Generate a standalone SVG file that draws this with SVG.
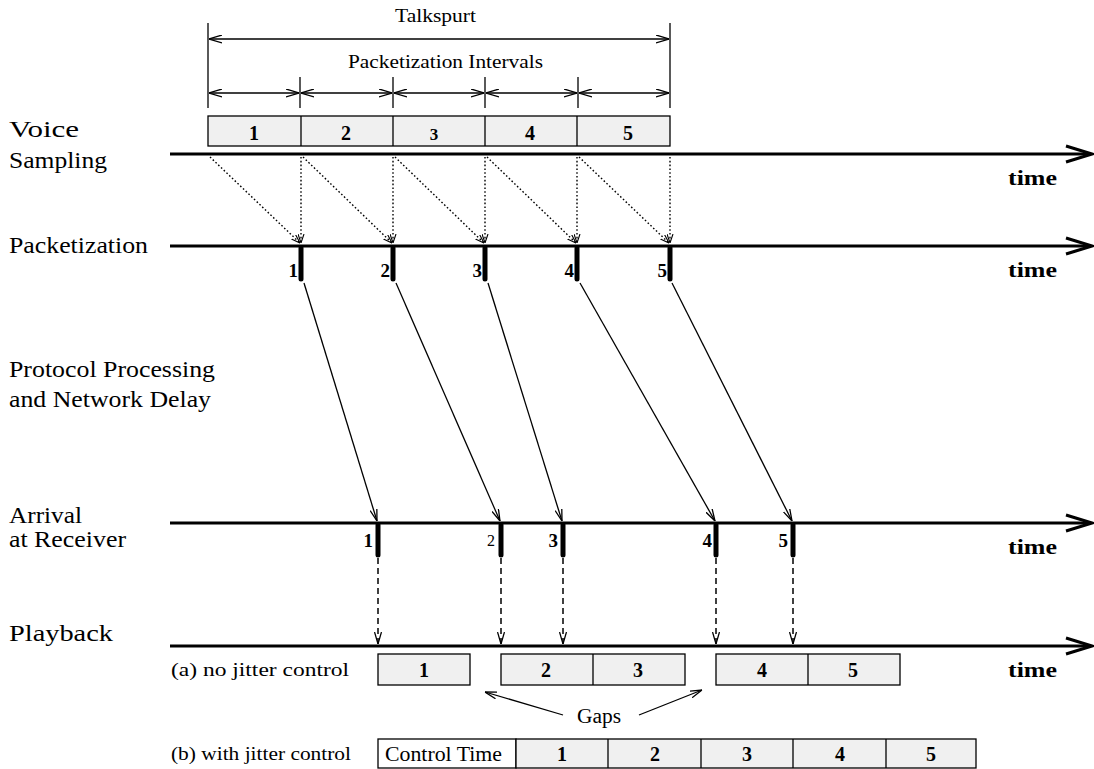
<svg xmlns="http://www.w3.org/2000/svg" width="1094" height="769" viewBox="0 0 1094 769" font-family="'Liberation Serif', Tinos, 'Times New Roman', Times, serif">
  <style>
    text { font-family: "Liberation Serif", Tinos, "Times New Roman", Times, serif; fill: #000; }
    .lbl { font-size: 23px; }
    .hdr { font-size: 18px; }
    .num { font-size: 20px; font-weight: bold; text-anchor: middle; }
    .tick-num { font-size: 19px; font-weight: bold; text-anchor: end; }
    .time { font-size: 22px; font-weight: bold; }
    .small { font-size: 19px; }
    .axis { stroke: #000; stroke-width: 3; fill: none; }
    .axis-head { stroke: #000; stroke-width: 3; fill: none; stroke-linejoin: miter; }
    .bar { stroke: #000; stroke-width: 5; stroke-linecap: round; }
    .box { fill: #f0f0f0; stroke: #000; stroke-width: 1.3; }
    .wbox { fill: #fff; stroke: #000; stroke-width: 1.3; }
    .dim { stroke: #000; stroke-width: 1.3; fill: none; }
    .dot { stroke: #000; stroke-width: 1.4; stroke-dasharray: 1.6 2.2; fill: none; }
    .dash { stroke: #000; stroke-width: 1.5; stroke-dasharray: 6 4; fill: none; }
    .solid { stroke: #000; stroke-width: 1.3; fill: none; }
  </style>
  <defs>
    <marker id="dimHead" viewBox="0 0 13 9" refX="13" refY="4.5" markerWidth="13" markerHeight="9" orient="auto-start-reverse" markerUnits="userSpaceOnUse">
      <path d="M0,0.5 L13,4.5 L0,8.5" fill="none" stroke="#000" stroke-width="1.3"/>
    </marker>
    <marker id="openHead" viewBox="0 0 12 8" refX="12" refY="4" markerWidth="12" markerHeight="8" orient="auto" markerUnits="userSpaceOnUse">
      <path d="M0,0.5 L12,4 L0,7.5" fill="none" stroke="#000" stroke-width="1.3"/>
    </marker>
    <marker id="smallHead" viewBox="0 0 9 7" refX="9" refY="3.5" markerWidth="9" markerHeight="7" orient="auto" markerUnits="userSpaceOnUse">
      <path d="M0,0.5 L9,3.5 L0,6.5" fill="none" stroke="#000" stroke-width="1.1"/>
    </marker>
  </defs>

  <!-- Talkspurt and packetization interval dimensions -->
  <g id="talkspurt">
    <text class="hdr" x="395" y="22" textLength="81" lengthAdjust="spacingAndGlyphs">Talkspurt</text>
    <line class="dim" x1="208" y1="23" x2="208" y2="108"/>
    <line class="dim" x1="670" y1="23" x2="670" y2="108"/>
    <line class="dim" x1="209" y1="39" x2="669" y2="39" marker-start="url(#dimHead)" marker-end="url(#dimHead)"/>
  </g>
  <g id="intervals">
    <text class="hdr" x="348" y="68" textLength="195" lengthAdjust="spacingAndGlyphs">Packetization Intervals</text>
    <line class="dim" x1="300" y1="77" x2="300" y2="108"/>
    <line class="dim" x1="393" y1="77" x2="393" y2="108"/>
    <line class="dim" x1="485" y1="77" x2="485" y2="108"/>
    <line class="dim" x1="578" y1="77" x2="578" y2="108"/>
    <line class="dim" x1="209" y1="93" x2="299" y2="93" marker-start="url(#dimHead)" marker-end="url(#dimHead)"/>
    <line class="dim" x1="301" y1="93" x2="392" y2="93" marker-start="url(#dimHead)" marker-end="url(#dimHead)"/>
    <line class="dim" x1="394" y1="93" x2="484" y2="93" marker-start="url(#dimHead)" marker-end="url(#dimHead)"/>
    <line class="dim" x1="486" y1="93" x2="577" y2="93" marker-start="url(#dimHead)" marker-end="url(#dimHead)"/>
    <line class="dim" x1="579" y1="93" x2="669" y2="93" marker-start="url(#dimHead)" marker-end="url(#dimHead)"/>
  </g>

  <!-- Voice sampling row -->
  <g id="voice-sampling">
    <text class="lbl" x="9" y="137" textLength="70" lengthAdjust="spacingAndGlyphs">Voice</text>
    <text class="lbl" x="9" y="168" textLength="98" lengthAdjust="spacingAndGlyphs">Sampling</text>
    <rect class="box" x="208" y="116" width="462" height="30"/>
    <line class="dim" x1="301" y1="116" x2="301" y2="146"/>
    <line class="dim" x1="393" y1="116" x2="393" y2="146"/>
    <line class="dim" x1="485" y1="116" x2="485" y2="146"/>
    <line class="dim" x1="577" y1="116" x2="577" y2="146"/>
    <text class="num" x="254" y="140">1</text>
    <text class="num" x="346" y="140">2</text>
    <text class="num" x="434" y="140" style="font-size:17px">3</text>
    <text class="num" x="530" y="140">4</text>
    <text class="num" x="628" y="140">5</text>
    <line class="axis" x1="170" y1="154" x2="1090" y2="154"/>
    <path class="axis-head" d="M1066,146 L1092,154 L1066,162"/>
    <text class="time" x="1008" y="185" textLength="49" lengthAdjust="spacingAndGlyphs">time</text>
  </g>

  <!-- Packetization row -->
  <g id="packetization">
    <text class="lbl" x="9" y="253" textLength="139" lengthAdjust="spacingAndGlyphs">Packetization</text>
    <line class="axis" x1="170" y1="246" x2="1090" y2="246"/>
    <path class="axis-head" d="M1066,238 L1092,246 L1066,254"/>
    <line class="bar" x1="301" y1="248" x2="301" y2="279"/>
    <line class="bar" x1="393" y1="248" x2="393" y2="279"/>
    <line class="bar" x1="485" y1="248" x2="485" y2="279"/>
    <line class="bar" x1="577" y1="248" x2="577" y2="279"/>
    <line class="bar" x1="670" y1="248" x2="670" y2="279"/>
    <text class="tick-num" x="298" y="277">1</text>
    <text class="tick-num" x="390" y="277">2</text>
    <text class="tick-num" x="482" y="277">3</text>
    <text class="tick-num" x="574" y="277">4</text>
    <text class="tick-num" x="667" y="277">5</text>
    <text class="time" x="1008" y="277" textLength="49" lengthAdjust="spacingAndGlyphs">time</text>
  </g>

  <!-- Network delay label -->
  <g id="network-delay">
    <text class="lbl" x="9" y="377" textLength="206" lengthAdjust="spacingAndGlyphs">Protocol Processing</text>
    <text class="lbl" x="9" y="407" textLength="202" lengthAdjust="spacingAndGlyphs">and Network Delay</text>
  </g>

  <!-- Arrival row -->
  <g id="arrival">
    <text class="lbl" x="9" y="523" textLength="73" lengthAdjust="spacingAndGlyphs">Arrival</text>
    <text class="lbl" x="9" y="547" textLength="117" lengthAdjust="spacingAndGlyphs">at Receiver</text>
    <line class="axis" x1="170" y1="523" x2="1090" y2="523"/>
    <path class="axis-head" d="M1066,515 L1092,523 L1066,531"/>
    <line class="bar" x1="378" y1="525" x2="378" y2="555"/>
    <line class="bar" x1="501" y1="525" x2="501" y2="555"/>
    <line class="bar" x1="563" y1="525" x2="563" y2="555"/>
    <line class="bar" x1="716" y1="525" x2="716" y2="555"/>
    <line class="bar" x1="793" y1="525" x2="793" y2="555"/>
    <text class="tick-num" x="373" y="547">1</text>
    <text class="tick-num" x="495" y="546" style="font-weight:normal;font-size:16px">2</text>
    <text class="tick-num" x="558" y="547">3</text>
    <text class="tick-num" x="712" y="547">4</text>
    <text class="tick-num" x="788" y="547">5</text>
    <text class="time" x="1008" y="554" textLength="49" lengthAdjust="spacingAndGlyphs">time</text>
  </g>

  <!-- Playback row -->
  <g id="playback">
    <text class="lbl" x="9" y="641" textLength="104" lengthAdjust="spacingAndGlyphs">Playback</text>
    <line class="axis" x1="170" y1="646" x2="1090" y2="646"/>
    <path class="axis-head" d="M1066,638 L1092,646 L1066,654"/>
    <text class="time" x="1008" y="677" textLength="49" lengthAdjust="spacingAndGlyphs">time</text>
  </g>

  <!-- (a) playback without jitter control -->
  <g id="no-jitter-control">
    <text class="small" x="171" y="676" textLength="178" lengthAdjust="spacingAndGlyphs">(a) no jitter control</text>
    <rect class="box" x="378" y="654" width="92" height="31"/>
    <rect class="box" x="501" y="654" width="184" height="31"/>
    <line class="dim" x1="593" y1="654" x2="593" y2="685"/>
    <rect class="box" x="716" y="654" width="184" height="31"/>
    <line class="dim" x1="808" y1="654" x2="808" y2="685"/>
    <text class="num" x="424" y="677">1</text>
    <text class="num" x="546" y="677">2</text>
    <text class="num" x="638" y="677">3</text>
    <text class="num" x="762" y="677">4</text>
    <text class="num" x="853" y="677">5</text>
  </g>

  <!-- Gaps annotation -->
  <g id="gaps">
    <text class="small" x="577" y="723" style="font-size:20px" textLength="44" lengthAdjust="spacingAndGlyphs">Gaps</text>
  </g>

  <!-- (b) playback with jitter control -->
  <g id="jitter-control">
    <text class="small" x="171" y="760" textLength="180" lengthAdjust="spacingAndGlyphs">(b) with jitter control</text>
    <rect class="wbox" x="378" y="739" width="138" height="29"/>
    <rect class="box" x="516" y="739" width="460" height="29"/>
    <line class="dim" x1="608" y1="739" x2="608" y2="768"/>
    <line class="dim" x1="701" y1="739" x2="701" y2="768"/>
    <line class="dim" x1="793" y1="739" x2="793" y2="768"/>
    <line class="dim" x1="886" y1="739" x2="886" y2="768"/>
    <text class="small" x="385" y="761" style="font-size:21px" textLength="117" lengthAdjust="spacingAndGlyphs">Control Time</text>
    <text class="num" x="562" y="761">1</text>
    <text class="num" x="655" y="761">2</text>
    <text class="num" x="747" y="761">3</text>
    <text class="num" x="840" y="761">4</text>
    <text class="num" x="931" y="761">5</text>
  </g>

  <!-- Connectors -->
  <g id="connectors">
    <!-- sampling interval to packet: dotted -->
    <line class="dot" x1="210" y1="157" x2="300" y2="243" marker-end="url(#smallHead)"/>
    <line class="dot" x1="301" y1="157" x2="301" y2="243" marker-end="url(#smallHead)"/>
    <line class="dot" x1="303" y1="157" x2="392" y2="243" marker-end="url(#smallHead)"/>
    <line class="dot" x1="393" y1="157" x2="393" y2="243" marker-end="url(#smallHead)"/>
    <line class="dot" x1="395" y1="157" x2="484" y2="243" marker-end="url(#smallHead)"/>
    <line class="dot" x1="485" y1="157" x2="485" y2="243" marker-end="url(#smallHead)"/>
    <line class="dot" x1="487" y1="157" x2="576" y2="243" marker-end="url(#smallHead)"/>
    <line class="dot" x1="577" y1="157" x2="577" y2="243" marker-end="url(#smallHead)"/>
    <line class="dot" x1="579" y1="157" x2="669" y2="243" marker-end="url(#smallHead)"/>
    <line class="dot" x1="670" y1="157" x2="670" y2="243" marker-end="url(#smallHead)"/>
    <!-- network transit: solid -->
    <line class="solid" x1="304" y1="283" x2="377" y2="521" marker-end="url(#openHead)"/>
    <line class="solid" x1="396" y1="283" x2="500" y2="521" marker-end="url(#openHead)"/>
    <line class="solid" x1="488" y1="283" x2="562" y2="521" marker-end="url(#openHead)"/>
    <line class="solid" x1="580" y1="283" x2="715" y2="521" marker-end="url(#openHead)"/>
    <line class="solid" x1="672" y1="283" x2="792" y2="521" marker-end="url(#openHead)"/>
    <!-- arrival to playback: dashed -->
    <line class="dash" x1="378" y1="558" x2="378" y2="644" marker-end="url(#openHead)"/>
    <line class="dash" x1="501" y1="558" x2="501" y2="644" marker-end="url(#openHead)"/>
    <line class="dash" x1="563" y1="558" x2="563" y2="644" marker-end="url(#openHead)"/>
    <line class="dash" x1="716" y1="558" x2="716" y2="644" marker-end="url(#openHead)"/>
    <line class="dash" x1="793" y1="558" x2="793" y2="644" marker-end="url(#openHead)"/>
    <!-- gap pointers -->
    <line class="solid" x1="563" y1="715" x2="485" y2="692" marker-end="url(#openHead)"/>
    <line class="solid" x1="639" y1="715" x2="702" y2="690" marker-end="url(#openHead)"/>
  </g>
</svg>
